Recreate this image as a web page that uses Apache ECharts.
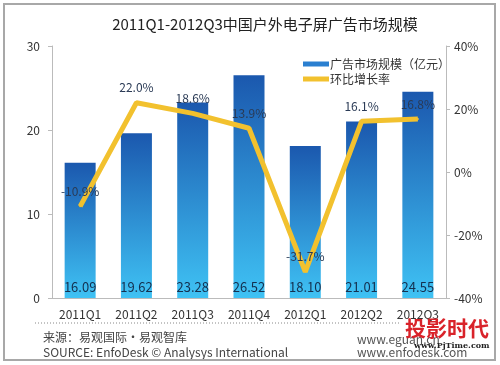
<!DOCTYPE html>
<html>
<head>
<meta charset="utf-8">
<script src="https://cdn.jsdelivr.net/npm/echarts@6/dist/echarts.min.js"></script>
<style>html,body{margin:0;padding:0;background:#fff;}#c{width:500px;height:365px;}</style>
</head>
<body>
<div id="c"></div>
<script>
var categories = ['2011Q1','2011Q2','2011Q3','2011Q4','2012Q1','2012Q2','2012Q3'];
var marketSize = [16.09, 19.62, 23.28, 26.52, 18.10, 21.01, 24.55];
var growthRate = [-10.9, 22.0, 18.6, 13.9, -31.7, 16.1, 16.8];
var leftTicks = {min: 0, max: 30, interval: 10};
var rightTicks = {min: -40, max: 40, interval: 20};
var titleText = '2011Q1-2012Q3中国户外电子屏广告市场规模';
var seriesNames = ['广告市场规模（亿元）', '环比增长率'];

var font = '"Microsoft YaHei","Noto Sans CJK SC","Open Sans",sans-serif';
var chart = echarts.init(document.getElementById('c'));
chart.setOption({
  backgroundColor: '#fff',
  animation: false,
  textStyle: {fontFamily: font},
  title: {
    text: titleText, left: 260, top: 12, textAlign: 'center',
    textStyle: {fontSize: 15, fontWeight: 'normal', color: '#222', fontFamily: font}
  },
  legend: {
    orient: 'vertical', left: 298, top: 53, itemGap: 3,
    itemWidth: 26, itemHeight: 5,
    textStyle: {fontSize: 12, color: '#333', padding: [0,0,0,-4]},
    data: [
      {name: seriesNames[0], icon: 'rect', itemStyle: {color: '#2a7fd0'}},
      {name: seriesNames[1], icon: 'rect', itemStyle: {color: '#f2c12e'}}
    ]
  },
  grid: {left: 52, right: 54, top: 46, bottom: 67},
  xAxis: {
    type: 'category', data: categories,
    axisLine: {lineStyle: {color: '#bbb'}},
    axisTick: {show: false},
    axisLabel: {color: '#333', fontSize: 12, margin: 10}
  },
  yAxis: [
    {
      type: 'value', min: leftTicks.min, max: leftTicks.max, interval: leftTicks.interval,
      axisLine: {show: true, lineStyle: {color: '#bbb'}},
      axisTick: {show: true, length: 4, lineStyle: {color: '#bbb'}},
      splitLine: {show: false},
      axisLabel: {color: '#333', fontSize: 12, margin: 12}
    },
    {
      type: 'value', min: rightTicks.min, max: rightTicks.max, interval: rightTicks.interval,
      axisLine: {show: true, lineStyle: {color: '#bbb'}},
      axisTick: {show: true, length: 4, lineStyle: {color: '#bbb'}},
      splitLine: {show: false},
      axisLabel: {color: '#333', fontSize: 12, margin: 8, formatter: '{value}%'}
    }
  ],
  series: [
    {
      name: seriesNames[0], type: 'bar', data: marketSize, barWidth: 31,
      itemStyle: {
        color: new echarts.graphic.LinearGradient(0, 0, 0, 1, [
          {offset: 0, color: '#1b58ae'},
          {offset: 1, color: '#3fc2f4'}
        ])
      },
      label: {
        show: true, position: 'insideBottom', distance: 4,
        color: '#14304f', fontSize: 13,
        formatter: function (p) { return p.value.toFixed(2); }
      }
    },
    {
      name: seriesNames[1], type: 'line', yAxisIndex: 1, data: growthRate,
      symbol: 'circle', symbolSize: 2, showSymbol: true, z: 5,
      lineStyle: {color: '#f2c12e', width: 5},
      itemStyle: {color: '#f2c12e'},
      label: {
        show: true, position: 'top', distance: 8,
        color: '#2a3a55', fontSize: 12,
        formatter: function (p) { return p.value.toFixed(1) + '%'; }
      },
      labelLayout: {hideOverlap: false}
    }
  ],
  graphic: [
    {type: 'rect', shape: {x: 4, y: 4, width: 491, height: 356}, style: {fill: 'none', stroke: '#a8a8a8', lineWidth: 2}, z: 100},
    {type: 'line', shape: {x1: 35, y1: 323, x2: 400, y2: 323}, style: {stroke: '#888', lineWidth: 1, lineDash: [1, 2]}},
    {type: 'text', left: 43, top: 331, style: {text: '来源：易观国际·易观智库', fontSize: 12, fill: '#444', fontFamily: font}},
    {type: 'text', left: 43, top: 346, style: {text: 'SOURCE: EnfoDesk © Analysys International', fontSize: 12, fill: '#444', fontFamily: font}},
    {type: 'text', left: 357, top: 333, style: {text: 'www.eguan.cn', fontSize: 12, fill: '#555', fontFamily: font}},
    {type: 'text', left: 357, top: 346, style: {text: 'www.enfodesk.com', fontSize: 12, fill: '#555', fontFamily: font}},
    {type: 'text', left: 405, top: 318, z: 50, style: {text: '投影时代', fontSize: 21, fontWeight: 'bold', fill: '#d9232a', fontFamily: font}},
    {type: 'text', left: 414, top: 342, z: 50, style: {text: 'www.PjTime.com', fontSize: 8, fontWeight: 'bold', fill: '#222', fontFamily: '"DejaVu Serif",serif'}}
  ]
});
</script>
</body>
</html>
